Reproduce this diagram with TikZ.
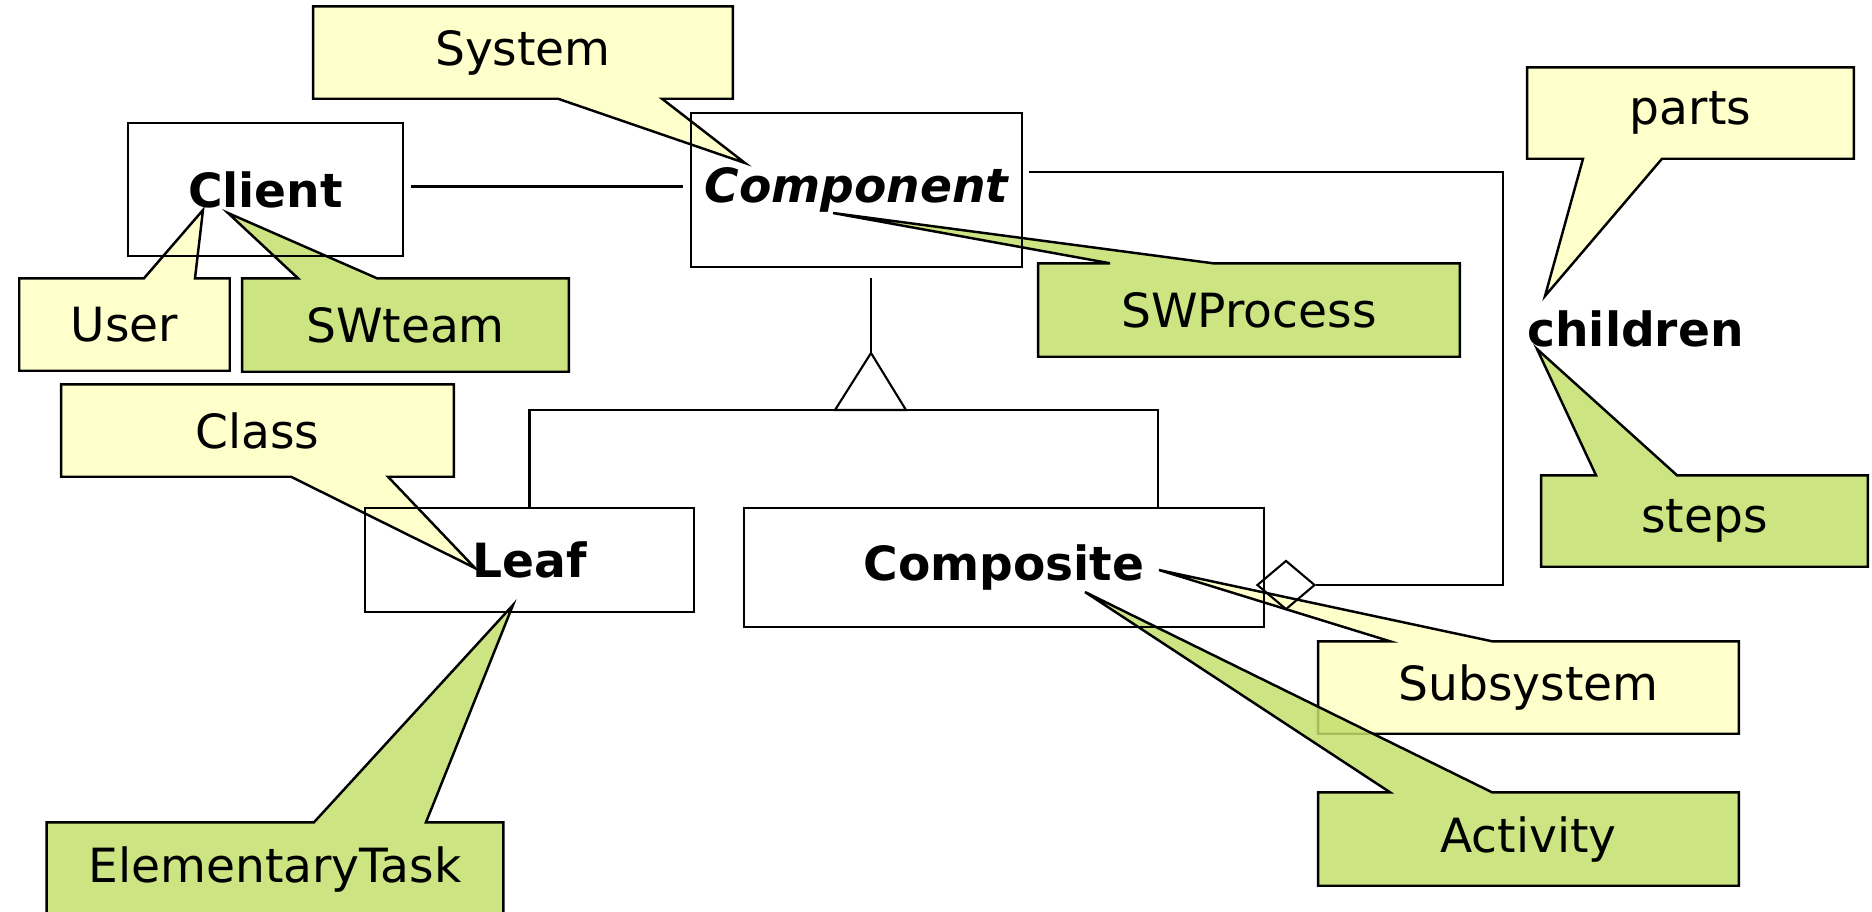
\documentclass[tikz,border=0pt]{standalone}
\usepackage{fontspec}
\setmainfont{DejaVu Sans}
\usetikzlibrary{shapes.geometric,backgrounds}

\definecolor{noteyellow}{RGB}{255,255,195}
\definecolor{notegreen}{RGB}{195,223,108}

\tikzset{
  cls/.style={draw, line width=0.6pt, inner sep=0pt, font=\fontsize{13.4}{16}\selectfont\bfseries},
  role/.style={inner sep=0pt, font=\fontsize{13.4}{16}\selectfont\bfseries},
  note/.style={inner sep=0pt, font=\fontsize{13.4}{16}\selectfont},
  notepath/.style={draw, line width=0.7pt, fill opacity=0.85},
  link/.style={line width=0.6pt},
}

% callout outline behind a note node: node, colour, base left x, base right x, tip
\newcommand{\tailup}[5]{%
  \begin{scope}[on background layer]
    \draw[notepath, fill=#2] (#1.south west) -- (#1.north west) -- (#1.north west -| #3,0) -- (#5)
      -- (#1.north west -| #4,0) -- (#1.north east) -- (#1.south east) -- cycle;
  \end{scope}}
\newcommand{\taildown}[5]{%
  \begin{scope}[on background layer]
    \draw[notepath, fill=#2] (#1.north west) -- (#1.north east) -- (#1.south east) -- (#1.south west -| #4,0)
      -- (#5) -- (#1.south west -| #3,0) -- (#1.south west) -- cycle;
  \end{scope}}

\begin{document}
\begin{tikzpicture}[x=0.01cm, y=-0.01cm]
    \useasboundingbox (0,0) rectangle (1872,911);

    % classes
    \node[cls, minimum width=2.75cm, minimum height=1.33cm] (client) at (265.5,189.5) {Client};
    \node[cls, minimum width=3.31cm, minimum height=1.54cm] (component) at (856.5,190) {\itshape Component};
    \node[cls, minimum width=3.29cm, minimum height=1.04cm] (leaf) at (529.5,560) {Leaf};
    \node[cls, minimum width=5.20cm, minimum height=1.19cm] (composite) at (1004,567.5) {Composite};
    \node[role] (children) at (1635.5,329) {children};
    \node[diamond, draw, line width=0.6pt, inner sep=0pt, minimum width=0.58cm, minimum height=0.49cm] (agg) at (1286,585) {};

    \coordinate (apex) at (871,353);
    \coordinate (barR) at (1158,410);
    \coordinate (bend) at (1503,585);

    \draw[link, shorten <=0.07cm, shorten >=0.07cm] ([yshift=0.03cm]client.east) -- ([yshift=0.03cm]client.east -| component.west);
    \draw[link] ([xshift=0.06cm, yshift=0.18cm]component.east) -| (bend) -- (agg.east);
    \draw[link, shorten >=0.1cm] (apex) -- (apex |- component.south);
    \draw[link] (apex) -- ++(-36,57) -- ++(71,0) -- cycle;
    \draw[link] (leaf.north) |- (barR) -- (barR |- composite.north);

    % notes
    \node[note, minimum width=4.18cm, minimum height=0.91cm] (system) at (523,52.5) {System};
    \taildown{system}{noteyellow}{558}{662}{745,163}
    \node[note, minimum width=2.09cm, minimum height=0.91cm] (user) at (124.5,324.5) {User};
    \tailup{user}{noteyellow}{144}{195}{203,210}
    \node[note, minimum width=3.25cm, minimum height=0.92cm] (swteam) at (405.5,325) {SWteam};
    \tailup{swteam}{notegreen}{298}{377}{228,213}
    \node[note, minimum width=4.20cm, minimum height=0.92cm] (swprocess) at (1249,310) {SWProcess};
    \tailup{swprocess}{notegreen}{1110}{1213}{833,213}
    \node[note, minimum width=3.91cm, minimum height=0.91cm] (class) at (257.5,430.5) {Class};
    \taildown{class}{noteyellow}{291}{388}{475,568}
    \node[note, minimum width=3.25cm, minimum height=0.90cm] (parts) at (1690.5,113) {parts};
    \taildown{parts}{noteyellow}{1583}{1662}{1545,296}
    \node[note, minimum width=3.25cm, minimum height=0.90cm] (steps) at (1704.5,521) {steps};
    \tailup{steps}{notegreen}{1596}{1677}{1537,349}
    \node[note, minimum width=4.19cm, minimum height=0.91cm] (subsystem) at (1528.5,687.5) {Subsystem};
    \tailup{subsystem}{noteyellow}{1390}{1492}{1159,570}
    \node[note, minimum width=4.19cm, minimum height=0.92cm] (activity) at (1528.5,839) {Activity};
    \tailup{activity}{notegreen}{1390}{1492}{1085,592}
    \node[note, minimum width=4.55cm, minimum height=0.92cm] (elementary) at (275,869) {ElementaryTask};
    \tailup{elementary}{notegreen}{314}{426}{513,605}
\end{tikzpicture}
\end{document}
